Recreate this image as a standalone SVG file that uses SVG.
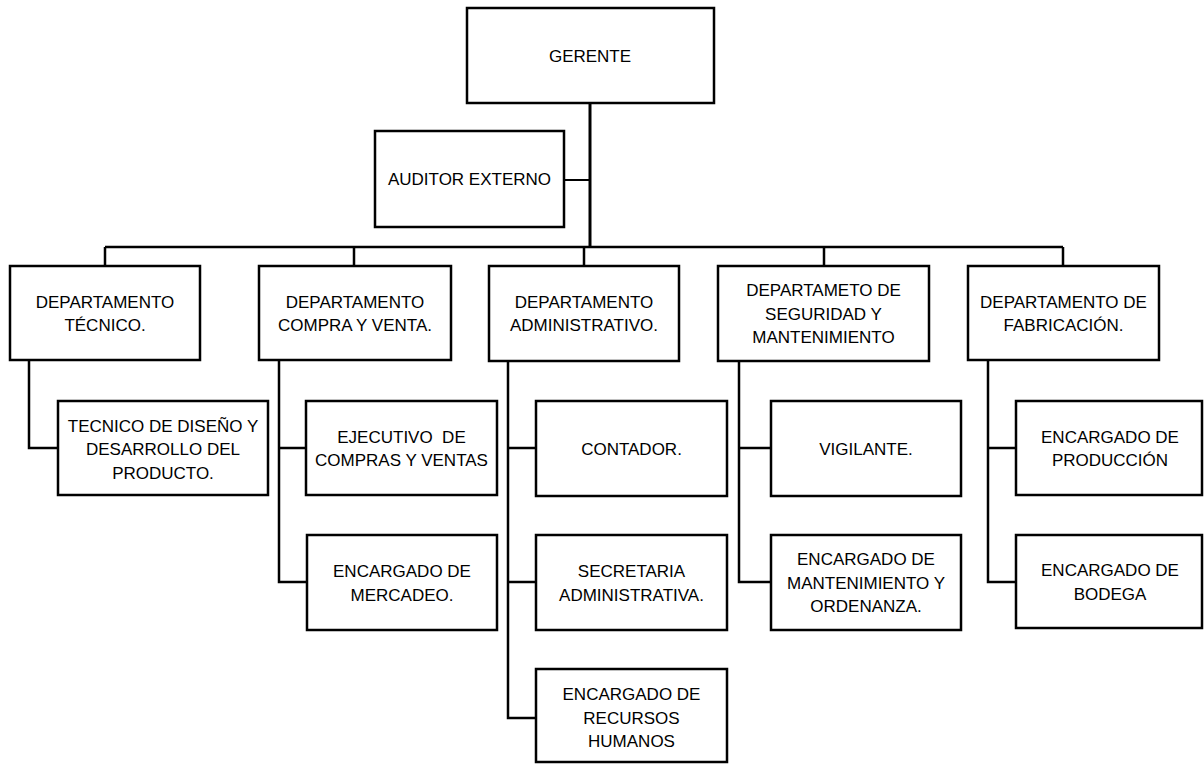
<svg xmlns="http://www.w3.org/2000/svg" width="1204" height="764" viewBox="0 0 1204 764">
<style>
.box{fill:#fff;stroke:#000;stroke-width:2.5}
.ln{fill:none;stroke:#000;stroke-width:2.5}
text{font-family:"Liberation Sans",Arial,sans-serif;font-size:17px;fill:#000;text-anchor:middle}
</style>
<rect width="1204" height="764" fill="#fff"/>
<g id="connectors">
<path class="ln" d="M590 103V247" style="stroke-width:3"/>
<path class="ln" d="M564 180H590" style="stroke-width:2"/>
<path class="ln" d="M105 247H1063M105 247V266M354 247V266M584 247V266M824 247V266M1063 247V266"/>
<path class="ln" d="M29 360V448H58"/>
<path class="ln" d="M279 360V582H307M279 448H306"/>
<path class="ln" d="M508 361V718H536M508 448H536M508 582H536"/>
<path class="ln" d="M739 361V582H771M739 448H771"/>
<path class="ln" d="M988 360V582H1016M988 448H1016"/>
</g>
<g id="gerente"><rect class="box" x="467" y="8" width="247" height="95"/><text x="590" y="61.5">GERENTE</text></g>
<g id="auditor"><rect class="box" x="375" y="131" width="189" height="96"/><text x="469.5" y="185">AUDITOR EXTERNO</text></g>
<g id="dep-tecnico"><rect class="box" x="10" y="266" width="190" height="94"/><text x="105" y="307.5"><tspan x="105">DEPARTAMENTO</tspan><tspan x="105" dy="23.5">TÉCNICO.</tspan></text></g>
<g id="dep-compra"><rect class="box" x="259" y="266" width="192" height="94"/><text x="355" y="307.5"><tspan x="355">DEPARTAMENTO</tspan><tspan x="355" dy="23.5">COMPRA Y VENTA.</tspan></text></g>
<g id="dep-admin"><rect class="box" x="489" y="266" width="190" height="95"/><text x="584" y="307.5"><tspan x="584">DEPARTAMENTO</tspan><tspan x="584" dy="23.5">ADMINISTRATIVO.</tspan></text></g>
<g id="dep-seguridad"><rect class="box" x="718" y="266" width="211" height="95"/><text x="823.5" y="296"><tspan x="823.5">DEPARTAMETO DE</tspan><tspan x="823.5" dy="23.5">SEGURIDAD Y</tspan><tspan x="823.5" dy="23.5">MANTENIMIENTO</tspan></text></g>
<g id="dep-fabricacion"><rect class="box" x="968" y="266" width="191" height="94"/><text x="1063.5" y="307.5"><tspan x="1063.5">DEPARTAMENTO DE</tspan><tspan x="1063.5" dy="23.5">FABRICACIÓN.</tspan></text></g>
<g id="tecnico-diseno"><rect class="box" x="58" y="401" width="210" height="94"/><text x="163" y="431.5"><tspan x="163">TECNICO DE DISEÑO Y</tspan><tspan x="163" dy="23.5">DESARROLLO DEL</tspan><tspan x="163" dy="23.5">PRODUCTO.</tspan></text></g>
<g id="ejecutivo"><rect class="box" x="306" y="401" width="191" height="94"/><text x="401.5" y="442.5" style="white-space:pre"><tspan x="401.5">EJECUTIVO  DE</tspan><tspan x="401.5" dy="23.5">COMPRAS Y VENTAS</tspan></text></g>
<g id="mercadeo"><rect class="box" x="307" y="535" width="190" height="95"/><text x="402" y="577"><tspan x="402">ENCARGADO DE</tspan><tspan x="402" dy="23.5">MERCADEO.</tspan></text></g>
<g id="contador"><rect class="box" x="536" y="401" width="191" height="95"/><text x="631.5" y="454.5">CONTADOR.</text></g>
<g id="secretaria"><rect class="box" x="536" y="535" width="191" height="95"/><text x="631.5" y="577"><tspan x="631.5">SECRETARIA</tspan><tspan x="631.5" dy="23.5">ADMINISTRATIVA.</tspan></text></g>
<g id="recursos"><rect class="box" x="536" y="669" width="191" height="93"/><text x="631.5" y="700"><tspan x="631.5">ENCARGADO DE</tspan><tspan x="631.5" dy="23.5">RECURSOS</tspan><tspan x="631.5" dy="23.5">HUMANOS</tspan></text></g>
<g id="vigilante"><rect class="box" x="771" y="401" width="190" height="95"/><text x="866" y="454.5">VIGILANTE.</text></g>
<g id="mantenimiento"><rect class="box" x="771" y="535" width="190" height="95"/><text x="866" y="565"><tspan x="866">ENCARGADO DE</tspan><tspan x="866" dy="23.5">MANTENIMIENTO Y</tspan><tspan x="866" dy="23.5">ORDENANZA.</tspan></text></g>
<g id="produccion"><rect class="box" x="1016" y="401" width="186" height="94"/><text x="1110" y="442.5"><tspan x="1110">ENCARGADO DE</tspan><tspan x="1110" dy="23.5">PRODUCCIÓN</tspan></text></g>
<g id="bodega"><rect class="box" x="1016" y="535" width="186" height="93"/><text x="1110" y="576"><tspan x="1110">ENCARGADO DE</tspan><tspan x="1110" dy="23.5">BODEGA</tspan></text></g>
</svg>
